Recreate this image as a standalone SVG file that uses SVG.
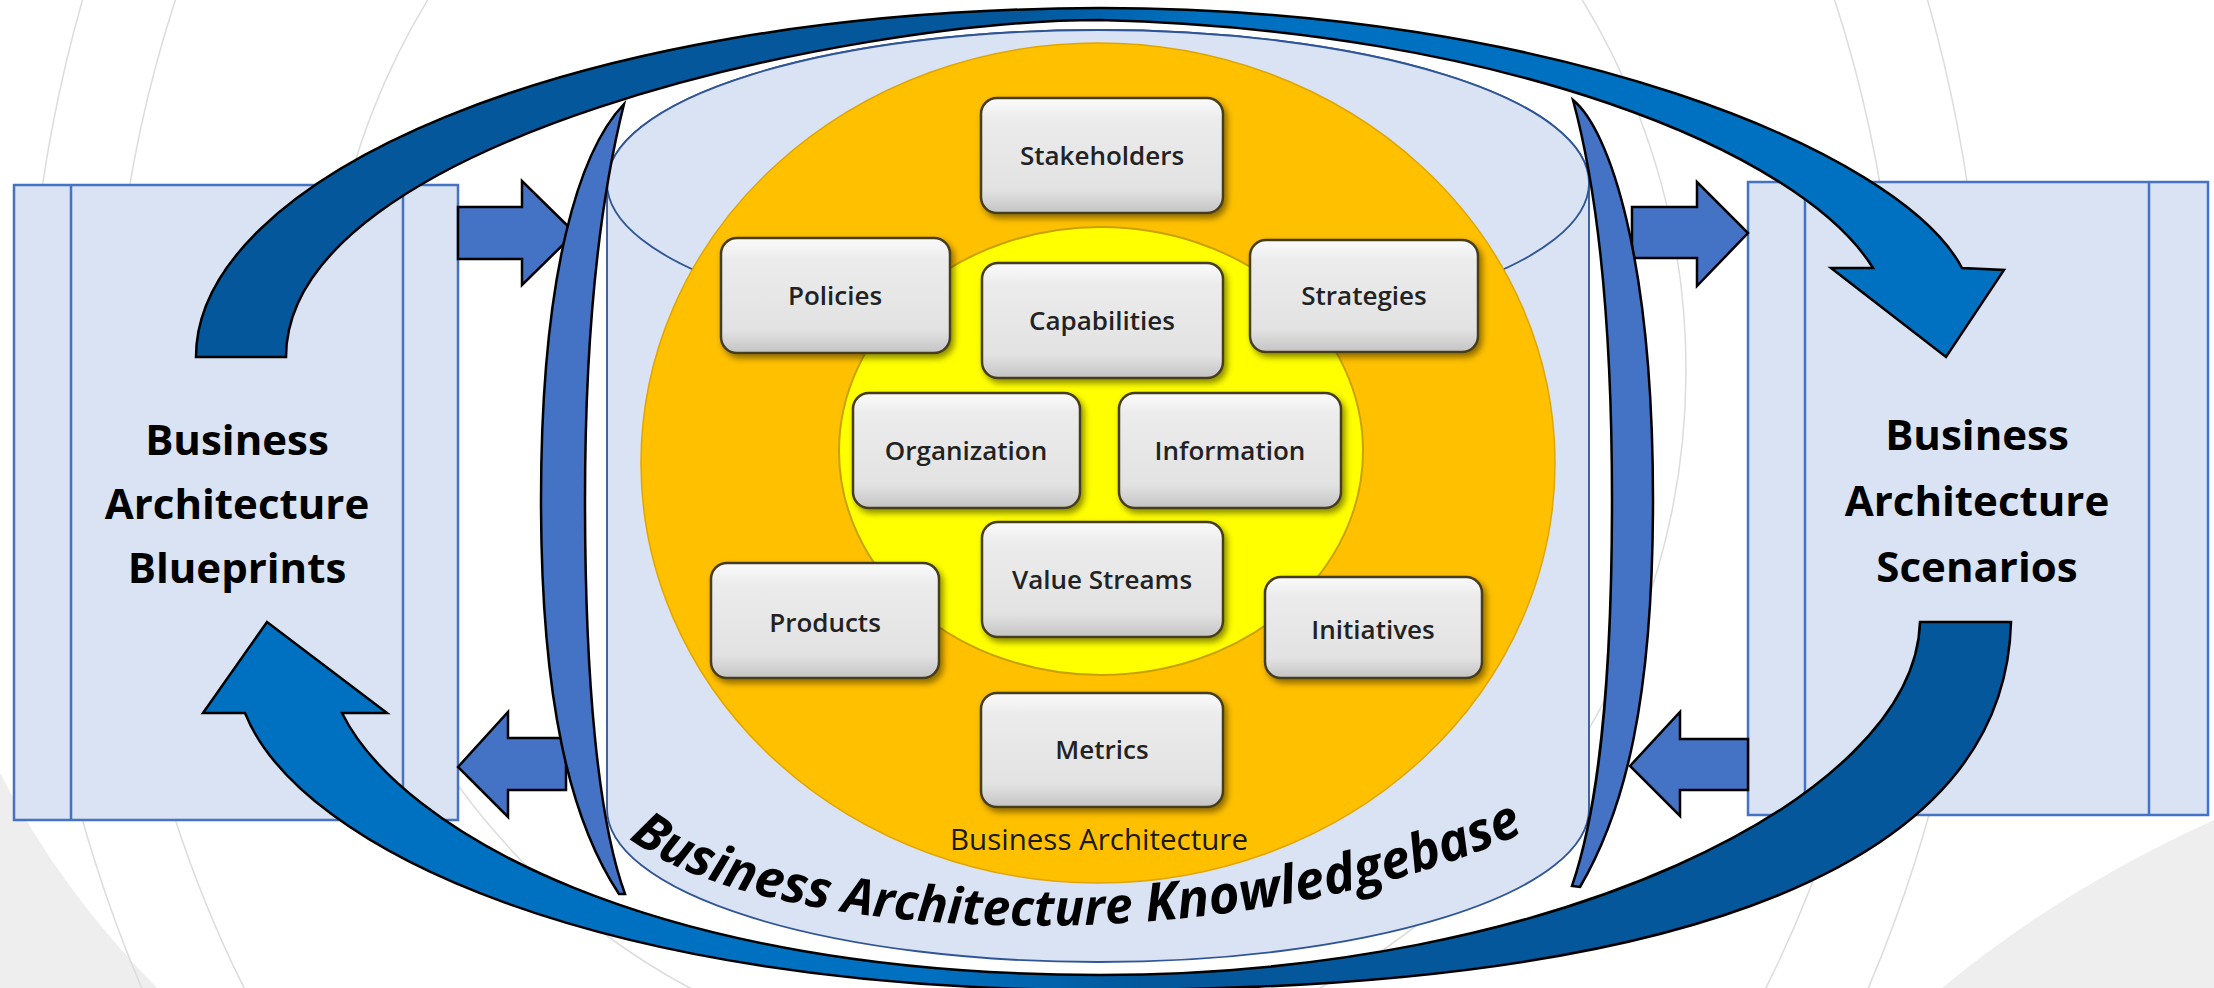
<svg xmlns="http://www.w3.org/2000/svg" width="2214" height="988" viewBox="0 0 2214 988">
<defs>
<style>
.ring{fill:none;stroke:#dcdcdc;stroke-width:1.5}
.panel{fill:#dae3f3;stroke:#4472c4;stroke-width:2.5}
.pline{stroke:#4472c4;stroke-width:2.5;fill:none}
.node rect{fill:url(#ng);stroke:#453c1a;stroke-width:2.5;filter:url(#sh)}
.node text{font-family:"Open Sans","Liberation Sans",sans-serif;font-size:26px;font-weight:600;fill:#222;text-anchor:middle}
.big{font-family:"Open Sans","Liberation Sans",sans-serif;font-size:42px;font-weight:bold;fill:#000;text-anchor:middle}
.kb{font-family:"Open Sans","Liberation Sans",sans-serif;font-size:50px;font-weight:bold;font-style:italic;fill:#000}
.blk{fill:#4472c4;stroke:#000;stroke-width:2.5;stroke-linejoin:miter}
</style>
<linearGradient id="ng" x1="0" y1="0" x2="0" y2="1">
<stop offset="0" stop-color="#fbfbfb"/>
<stop offset="0.18" stop-color="#ececec"/>
<stop offset="0.8" stop-color="#e2e2e2"/>
<stop offset="1" stop-color="#c4c4c4"/>
</linearGradient>
<linearGradient id="gtop" gradientUnits="userSpaceOnUse" x1="0" y1="0" x2="2214" y2="0">
<stop offset="0" stop-color="#03579a"/>
<stop offset="0.46" stop-color="#03579a"/>
<stop offset="0.54" stop-color="#0070c0"/>
<stop offset="1" stop-color="#0070c0"/>
</linearGradient>
<linearGradient id="gbot" gradientUnits="userSpaceOnUse" x1="0" y1="0" x2="2214" y2="0">
<stop offset="0" stop-color="#0070c0"/>
<stop offset="0.42" stop-color="#0070c0"/>
<stop offset="0.52" stop-color="#03579a"/>
<stop offset="1" stop-color="#03579a"/>
</linearGradient>
<filter id="sh" x="-10%" y="-10%" width="125%" height="130%">
<feDropShadow dx="3" dy="4" stdDeviation="3" flood-color="#000" flood-opacity="0.45"/>
</filter>
<path id="kbpath" d="M625,835 C760,950 1300,975 1595,795"/>
</defs>

<rect x="0" y="0" width="2214" height="988" fill="#ffffff"/>
<g id="background">
<path d="M0,773 Q60,890 157,988 L0,988 Z" fill="#eeeeee"/>
<path d="M2214,820 Q2060,890 1942,988 L2214,988 Z" fill="#eeeeee"/>
<ellipse class="ring" cx="1005" cy="410" rx="979" ry="1225"/>
<ellipse class="ring" cx="1005" cy="410" rx="894" ry="1100"/>
<ellipse class="ring" cx="1005" cy="370" rx="681" ry="697"/>
</g>

<g id="blueprints">
<rect class="panel" x="14" y="185" width="444" height="635"/>
<line class="pline" x1="71" y1="185" x2="71" y2="820"/>
<line class="pline" x1="403" y1="185" x2="403" y2="820"/>
<text class="big" x="237" y="455">Business</text>
<text class="big" x="237" y="519">Architecture</text>
<text class="big" x="237" y="583">Blueprints</text>
</g>

<g id="scenarios">
<rect class="panel" x="1748" y="182" width="460" height="633"/>
<line class="pline" x1="1805" y1="182" x2="1805" y2="815"/>
<line class="pline" x1="2149" y1="182" x2="2149" y2="815"/>
<text class="big" x="1977" y="450">Business</text>
<text class="big" x="1977" y="516">Architecture</text>
<text class="big" x="1977" y="582">Scenarios</text>
</g>

<g id="knowledgebase">
<path d="M607,183 A491,153 0 0 1 1589,183 L1589,809 A491,153 0 0 1 607,809 Z" fill="#dae3f3" stroke="#2f5597" stroke-width="1.8"/>
<ellipse cx="1098" cy="183" rx="491" ry="153" fill="#dae3f3" stroke="#2f5597" stroke-width="1.8"/>
<text class="kb" style="text-anchor:middle;font-size:52px"><textPath href="#kbpath" startOffset="112">Business</textPath></text>
<text class="kb" style="text-anchor:middle"><textPath href="#kbpath" startOffset="378">Architecture</textPath></text>
<text class="kb" style="text-anchor:start;font-size:53px"><textPath href="#kbpath" startOffset="538">Knowledgebase</textPath></text>
</g>

<g id="business-architecture">
<ellipse cx="1098" cy="463" rx="457" ry="420" fill="#ffc000" stroke="#e0a600" stroke-width="1.5"/>
<ellipse cx="1101" cy="451" rx="262" ry="224" fill="#ffff00" stroke="#c9a200" stroke-width="2"/>
<text x="1099" y="850" font-family="'Open Sans','Liberation Sans',sans-serif" font-size="29.5" fill="#1a1a1a" text-anchor="middle">Business Architecture</text>
</g>

<g id="node-stakeholders" class="node"><rect x="981" y="98" width="242" height="115" rx="16"/><text x="1102" y="165">Stakeholders</text></g>
<g id="node-policies" class="node"><rect x="721" y="238" width="229" height="115" rx="16"/><text x="835" y="305">Policies</text></g>
<g id="node-capabilities" class="node"><rect x="982" y="263" width="241" height="115" rx="16"/><text x="1102" y="330">Capabilities</text></g>
<g id="node-strategies" class="node"><rect x="1250" y="240" width="228" height="112" rx="16"/><text x="1364" y="305">Strategies</text></g>
<g id="node-organization" class="node"><rect x="853" y="393" width="227" height="115" rx="16"/><text x="966" y="460">Organization</text></g>
<g id="node-information" class="node"><rect x="1119" y="393" width="222" height="115" rx="16"/><text x="1230" y="460">Information</text></g>
<g id="node-value-streams" class="node"><rect x="982" y="522" width="241" height="115" rx="16"/><text x="1102" y="589">Value Streams</text></g>
<g id="node-products" class="node"><rect x="711" y="563" width="228" height="115" rx="16"/><text x="825" y="632">Products</text></g>
<g id="node-initiatives" class="node"><rect x="1265" y="577" width="217" height="101" rx="16"/><text x="1373" y="639">Initiatives</text></g>
<g id="node-metrics" class="node"><rect x="981" y="693" width="242" height="114" rx="16"/><text x="1102" y="759">Metrics</text></g>

<g id="connectors">
<polygon class="blk" points="458,207 522,207 522,181 575,233 522,285 522,259 458,259"/>
<polygon class="blk" points="458,767 508,712 508,738 566,738 566,790 508,790 508,817"/>
<polygon class="blk" points="1632,207 1697,207 1697,182 1748,233 1697,286 1697,258 1632,258"/>
<polygon class="blk" points="1630,766 1680,712 1680,739 1748,739 1748,790 1680,790 1680,816"/>
<path class="blk" d="M624,104 C580,150 541,270 541,500 C541,700 570,820 619,894 L625,894 C598,820 585,680 585,500 C585,330 600,200 624,104 Z"/>
<path class="blk" d="M1573,100 C1610,130 1653,260 1653,500 C1653,700 1625,810 1580,887 L1572,886 C1598,810 1612,690 1612,500 C1612,330 1600,200 1573,100 Z"/>
<path d="M196,357 C196,180 560,10 1100,8 C1550,8 1900,150 1962,268 L2004,270 L1946,357 L1831,268 L1873,268 C1800,150 1500,30 1100,20 C850,20 286,140 286,357 Z" fill="url(#gtop)" stroke="#000" stroke-width="2.5" stroke-linejoin="miter"/>
<path d="M1920,622 L2011,622 C2005,860 1700,990 1100,990 C600,990 300,850 245,713 L203,713 L267,622 L387,713 L342,713 C400,830 650,975 1100,975 C1550,975 1915,800 1920,622 Z" fill="url(#gbot)" stroke="#000" stroke-width="2.5" stroke-linejoin="miter"/>
</g>
</svg>
